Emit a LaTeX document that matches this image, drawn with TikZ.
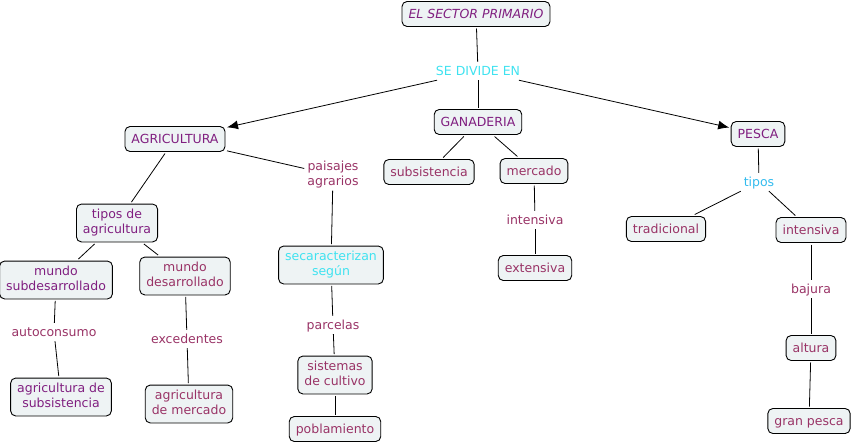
\documentclass[tikz,border=0pt]{standalone}
\usepackage{fontspec}
\setmainfont{DejaVu Sans}
\usetikzlibrary{arrows.meta}
\definecolor{boxfill}{HTML}{EEF3F4}
\definecolor{cpurple}{HTML}{801F80}
\definecolor{cmaroon}{HTML}{993366}
\definecolor{ccyan}{HTML}{3FE2F0}
\definecolor{cblue}{HTML}{33BBEE}
\newcommand\mystrut{\rule[-3.4pt]{0pt}{15pt}}
\tikzset{
  txt/.style={font=\fontsize{12.5}{15}\selectfont, align=center,
    execute at begin node=\mystrut, execute at end node=\mystrut},
  box/.style={txt, draw=black, line width=0.9pt, fill=boxfill, rounded corners=5pt,
    inner xsep=6.5pt, inner ysep=5pt, outer sep=2pt},
  lbl/.style={txt, inner xsep=3pt, inner ysep=1.5pt},
  pbox/.style={box, text=cpurple},
  mbox/.style={box, text=cmaroon},
  link/.style={draw=black, line width=0.8pt},
  arr/.style={link, -{Latex[length=11pt,width=9pt]}}
}
\begin{document}
\begin{tikzpicture}[x=1pt,y=-1pt]
\useasboundingbox (0,0) rectangle (854,445);
% top
\node[pbox, font=\fontsize{12.5}{15}\selectfont\itshape] (root) at (476,14) {EL SECTOR PRIMARIO};
\node[lbl, text=ccyan] (divide) at (478,71) {SE DIVIDE EN};
\node[pbox] (agri) at (175,139) {AGRICULTURA};
\node[pbox] (gana) at (478,122) {GANADERIA};
\node[pbox] (pesca) at (758,134) {PESCA};
% ganaderia
\node[mbox] (subs) at (429,172) {subsistencia};
\node[mbox] (merc) at (534,171) {mercado};
\node[lbl, text=cmaroon] (intl) at (535,220) {intensiva};
\node[mbox] (ext) at (535,268) {extensiva};
% pesca
\node[lbl, text=cblue] (tipos) at (759,182) {tipos};
\node[mbox] (trad) at (666,229) {tradicional};
\node[mbox] (intb) at (811,230) {intensiva};
\node[lbl, text=cmaroon] (bajura) at (811,289) {bajura};
\node[mbox] (altura) at (811,348) {altura};
\node[mbox] (gran) at (809,421) {gran pesca};
% agricultura
\node[lbl, text=cmaroon] (paisajes) at (333,175) {paisajes\\agrarios};
\node[box, text=ccyan] (secar) at (331,265) {secaracterizan\\según};
\node[lbl, text=cmaroon] (parcelas) at (333,325) {parcelas};
\node[mbox] (sist) at (335,375) {sistemas\\de cultivo};
\node[mbox] (pobl) at (335,429) {poblamiento};
\node[pbox] (tiposag) at (117,223) {tipos de\\agricultura};
\node[pbox] (msub) at (56,280) {mundo\\subdesarrollado};
\node[mbox] (mdes) at (185,276) {mundo\\desarrollado};
\node[lbl, text=cmaroon] (auto) at (54,332) {autoconsumo};
\node[lbl, text=cmaroon] (exce) at (187,339) {excedentes};
\node[pbox] (agsub) at (61,397) {agricultura de\\subsistencia};
\node[mbox] (agmer) at (189,404) {agricultura\\de mercado};
% connectors
\draw[link] (root) -- (divide);
\draw[arr] (divide) -- (agri);
\draw[link] (divide) -- (gana);
\draw[arr] (divide) -- (pesca);
\draw[link] (gana) -- (subs);
\draw[link] (gana) -- (merc);
\draw[link] (merc) -- (intl);
\draw[link] (intl) -- (ext);
\draw[link] (pesca) -- (tipos);
\draw[link] (tipos) -- (trad);
\draw[link] (tipos) -- (intb);
\draw[link] (intb) -- (bajura);
\draw[link] (bajura) -- (altura);
\draw[link] (altura) -- (gran);
\draw[link] (agri) -- (paisajes);
\draw[link] (paisajes) -- (secar);
\draw[link] (secar) -- (parcelas);
\draw[link] (parcelas) -- (sist);
\draw[link] (sist) -- (pobl);
\draw[link] (agri) -- (tiposag);
\draw[link] (tiposag) -- (msub);
\draw[link] (tiposag) -- (mdes);
\draw[link] (msub) -- (auto);
\draw[link] (auto) -- (agsub);
\draw[link] (mdes) -- (exce);
\draw[link] (exce) -- (agmer);
\end{tikzpicture}
\end{document}
